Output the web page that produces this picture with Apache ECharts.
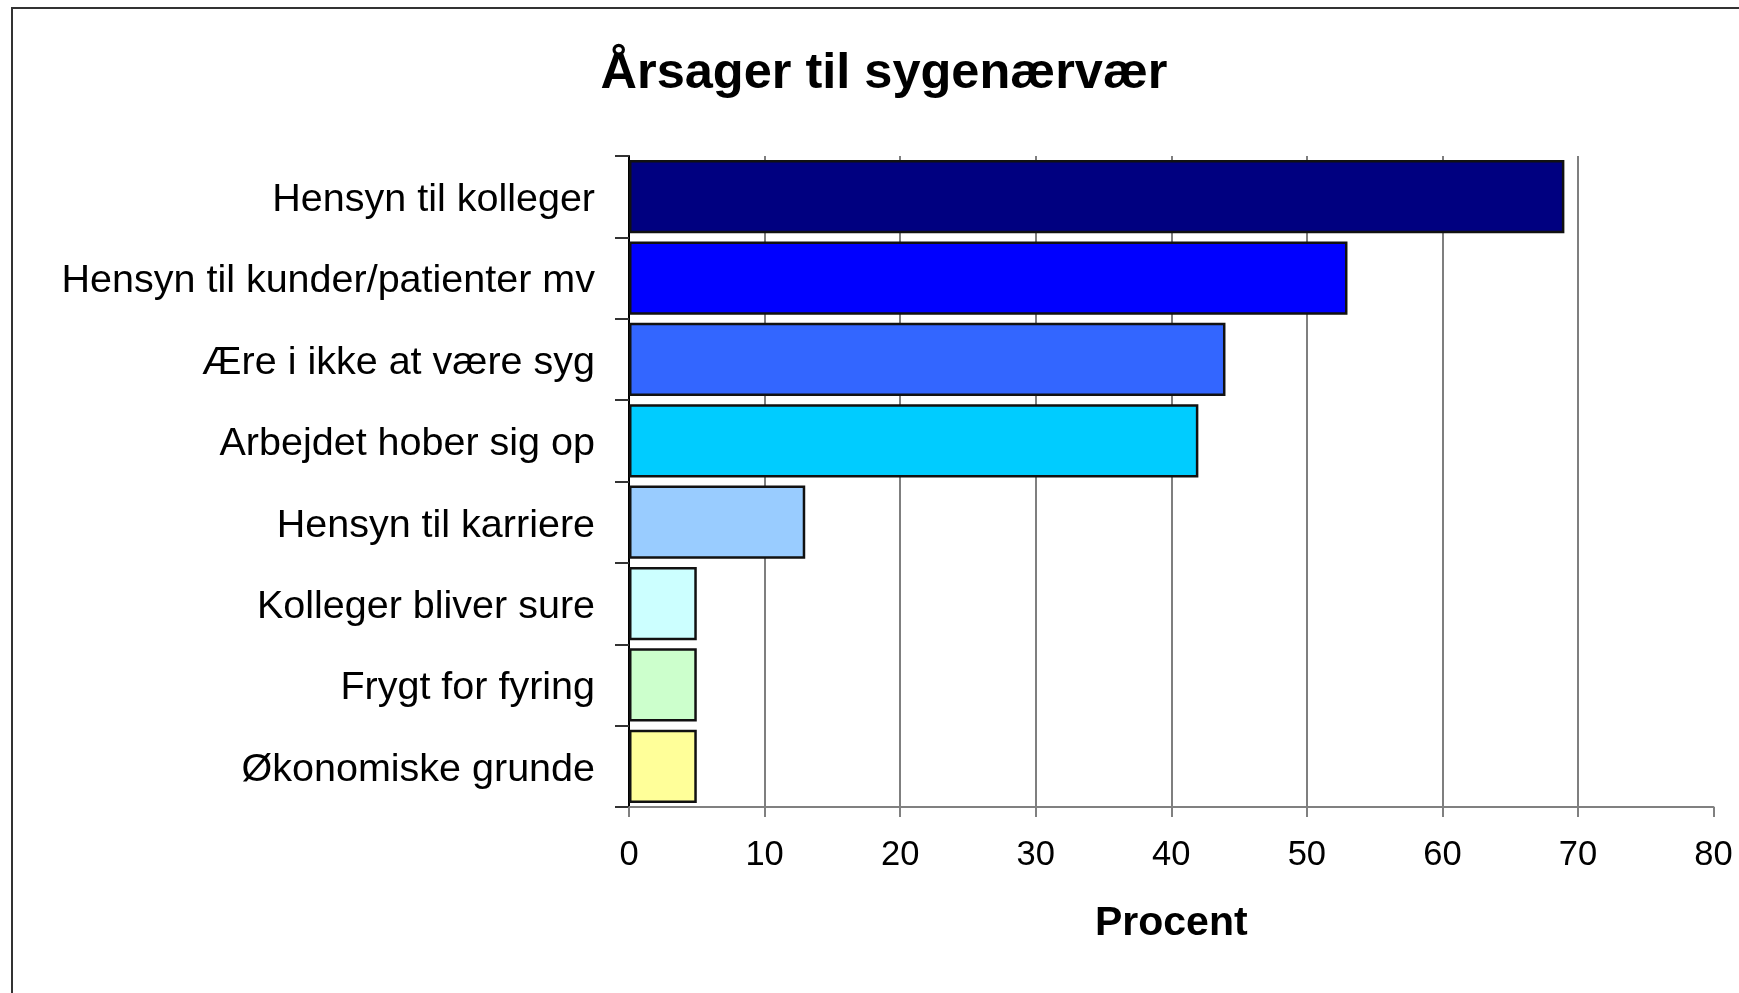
<!DOCTYPE html>
<html>
<head>
<meta charset="utf-8">
<script src="https://cdn.jsdelivr.net/npm/echarts@6/dist/echarts.min.js"></script>
<style>
html,body{margin:0;padding:0;background:#fff;}
#chart{width:1739px;height:993px;}
</style>
</head>
<body>
<div id="chart"></div>
<script>
const categories = [
  "Hensyn til kolleger",
  "Hensyn til kunder/patienter mv",
  "Ære i ikke at være syg",
  "Arbejdet hober sig op",
  "Hensyn til karriere",
  "Kolleger bliver sure",
  "Frygt for fyring",
  "Økonomiske grunde"
];
const values = [69, 53, 44, 42, 13, 5, 5, 5];
const barColors = ["#000080", "#0000FF", "#3366FF", "#00CCFF", "#99CCFF", "#CCFFFF", "#CCFFCC", "#FFFF99"];
const titleText = "Årsager til sygenærvær";
const xAxisName = "Procent";

const FONT = "'Liberation Sans', Arial, Helvetica, sans-serif";
const chart = echarts.init(document.getElementById('chart'), null, {renderer: 'canvas'});

chart.setOption({
  backgroundColor: '#ffffff',
  animation: false,
  title: {
    text: titleText,
    left: 879,
    top: 44,
    textAlign: 'center',
    textStyle: {fontFamily: FONT, fontSize: 50.5, fontWeight: 'bold', color: '#000'}
  },
  graphic: [{
    type: 'rect',
    shape: {x: 12, y: 8, width: 3000, height: 3000},
    style: {fill: 'none', stroke: '#333', lineWidth: 2},
    silent: true
  }],
  grid: {left: 629, top: 156, right: 25.5, bottom: 186, containLabel: false},
  xAxis: {
    type: 'value',
    min: 0, max: 80, interval: 10,
    name: xAxisName,
    nameLocation: 'middle',
    nameGap: 96,
    nameTextStyle: {fontFamily: FONT, fontSize: 41, fontWeight: 'bold', color: '#000'},
    axisLine: {show: true, lineStyle: {color: '#808080', width: 2}},
    axisTick: {show: true, length: 10, lineStyle: {color: '#808080', width: 2}},
    axisLabel: {fontFamily: FONT, fontSize: 34.5, color: '#000', margin: 31},
    splitLine: {show: true, showMinLine: false, showMaxLine: false, lineStyle: {color: '#555', width: 1.5}}
  },
  yAxis: {
    type: 'category',
    data: categories,
    inverse: true,
    axisLine: {show: true, lineStyle: {color: '#000', width: 2}},
    axisTick: {show: true, length: 14, alignWithLabel: false, lineStyle: {color: '#333', width: 2}},
    axisLabel: {
      margin: 34,
      formatter: v => '{c|' + v + '}',
      rich: {c: {fontFamily: FONT, fontSize: 39.5, color: '#000', padding: [7, 0, 0, 0]}}
    },
    splitLine: {show: false}
  },
  series: [{
    type: 'bar',
    barCategoryGap: '10%',
    data: values.map((v, i) => ({value: v, itemStyle: {color: barColors[i]}})),
    itemStyle: {borderColor: '#111', borderWidth: 2.5}
  }]
});
</script>
</body>
</html>
